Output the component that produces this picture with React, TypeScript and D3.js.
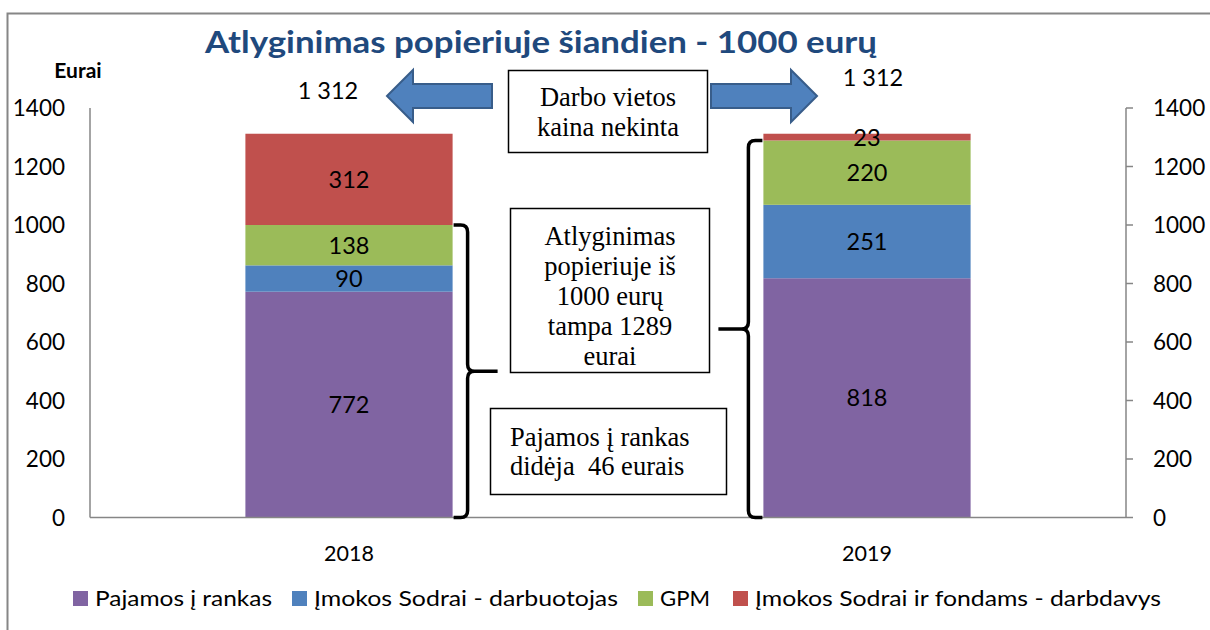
import React from 'react';
import * as d3 from 'd3';

// data
const years = ['2018', '2019'];
const seriesNames = [
    'Pajamos į rankas',
    'Įmokos Sodrai - darbuotojas',
    'GPM',
    'Įmokos Sodrai ir fondams - darbdavys',
];
const seriesColors = ['#8064A2', '#4F81BD', '#9BBB59', '#C0504D'];
const pajamos = [772, 818];
const sodraiDarbuotojas = [90, 251];
const gpm = [138, 220];
const sodraiDarbdavys = [312, 23];
const totalLabels = ['1 312', '1 312'];
const yTicks = [0, 200, 400, 600, 800, 1000, 1200, 1400];
const braceTops = [1000, 1289];

const W = 1210;
const H = 630;
const sans = 'Lato, "Open Sans", sans-serif';
const serif = '"Liberation Serif", "Times New Roman", serif';

type Row = { year: string; s0: number; s1: number; s2: number; s3: number };

const rows: Row[] = years.map((y, i) => ({
    year: y,
    s0: pajamos[i],
    s1: sodraiDarbuotojas[i],
    s2: gpm[i],
    s3: sodraiDarbdavys[i],
}));

const App: React.FC = () => {
    const x = d3.scaleBand<string>()
        .domain(years)
        .range([90, 1126])
        .paddingInner(0.6)
        .paddingOuter(0.3);

    const y = d3.scaleLinear()
        .domain([0, 1400])
        .range([517.5, 108]);

    const stack = d3.stack<Row>().keys(['s0', 's1', 's2', 's3']);
    const layers = stack(rows);

    // curly brace, dir = 1 tip points right, -1 tip points left
    const brace = (xEdge: number, yTop: number, yBot: number, dir: number) => {
        const xs = xEdge + dir * 14;
        const tip = xEdge + dir * 44;
        const mid = (yTop + yBot) / 2;
        const r = 7;
        return [
            `M${xEdge},${yTop}`,
            `L${xs - dir * r},${yTop}`,
            `Q${xs},${yTop} ${xs},${yTop + r}`,
            `L${xs},${mid - r}`,
            `Q${xs},${mid} ${xs + dir * r},${mid}`,
            `L${tip},${mid}`,
            `M${xs + dir * r},${mid}`,
            `Q${xs},${mid} ${xs},${mid + r}`,
            `L${xs},${yBot - r}`,
            `Q${xs},${yBot} ${xs - dir * r},${yBot}`,
            `L${xEdge},${yBot}`,
        ].join(' ');
    };

    const arrowLeft = 'M387,96 L413,70 L413,84 L492,84 L492,108 L413,108 L413,122 Z';
    const arrowRight = 'M817,96 L791,70 L791,84 L711,84 L711,108 L791,108 L791,122 Z';

    const x0 = x('2018') || 0;
    const x1 = x('2019') || 0;
    const bw = x.bandwidth();

    const legendX = [73, 292, 638, 733];
    const legendLen = [177, 304, 50, 406];

    return (
        <svg width={W} height={H} style={{ position: 'absolute', left: 0, top: 0, background: '#fff' }}>
            <rect x={7.5} y={13.5} width={1210} height={640} fill="#fff" stroke="#868686" strokeWidth={2} />

            {/* title */}
            <text x={541} y={53} textAnchor="middle" fontFamily={sans} fontWeight="bold" fontSize={31}
                fill="#1F497D" textLength={672} lengthAdjust="spacingAndGlyphs">
                Atlyginimas popieriuje šiandien - 1000 eurų
            </text>
            <text x={78} y={78} textAnchor="middle" fontFamily={sans} fontWeight="bold" fontSize={21} fill="#000">
                Eurai
            </text>

            {/* bars */}
            {layers.map((layer, li) => (
                <g key={li} fill={seriesColors[li]}>
                    {layer.map((d, i) => (
                        <rect key={i} x={x(d.data.year)} y={y(d[1])} width={bw} height={y(d[0]) - y(d[1])} />
                    ))}
                </g>
            ))}

            {/* axes */}
            <g stroke="#868686" strokeWidth={1.5} fill="none">
                <line x1={90} x2={90} y1={y(1400)} y2={y(0)} />
                <line x1={1126} x2={1126} y1={y(1400)} y2={y(0)} />
                <line x1={90} x2={1126} y1={y(0)} y2={y(0)} />
                {yTicks.map(t => (
                    <line key={t} x1={1126} x2={1133} y1={y(t)} y2={y(t)} />
                ))}
            </g>
            <g fontFamily={sans} fontSize={22.5} fill="#000">
                {yTicks.map(t => (
                    <text key={'l' + t} x={65} y={y(t)} dy="0.36em" textAnchor="end">{t}</text>
                ))}
                {yTicks.map(t => (
                    <text key={'r' + t} x={1153} y={y(t)} dy="0.36em" textAnchor="start">{t}</text>
                ))}
                {years.map(yr => (
                    <text key={yr} x={(x(yr) || 0) + bw / 2} y={553} dy="0.36em" textAnchor="middle" fontSize={21.5}>{yr}</text>
                ))}
            </g>

            {/* segment labels */}
            <g fontFamily={sans} fontSize={23.5} fill="#000" textAnchor="middle">
                {layers.map((layer, li) => layer.map((d, i) => (
                    <text key={li + '-' + i} x={(x(d.data.year) || 0) + bw / 2}
                        y={(y(d[0]) + y(d[1])) / 2} dy="0.36em">
                        {d[1] - d[0]}
                    </text>
                )))}
                <text x={x0 + bw / 2 - 21} y={y(1312) - 43} dy="0.36em">{totalLabels[0]}</text>
                <text x={x1 + bw / 2 + 6} y={y(1312) - 56} dy="0.36em">{totalLabels[1]}</text>
            </g>

            {/* braces */}
            <g stroke="#000" strokeWidth={3.5} fill="none" strokeLinejoin="round">
                <path d={brace(x0 + bw + 1, y(braceTops[0]), y(0), 1)} />
                <path d={brace(x1 - 1, y(braceTops[1]), y(0), -1)} />
            </g>

            {/* arrows */}
            <g fill="#4F81BD" stroke="#385D8A" strokeWidth={2}>
                <path d={arrowLeft} />
                <path d={arrowRight} />
            </g>

            {/* text boxes */}
            <g fontFamily={serif} fontSize={26.5} fill="#000">
                <rect x={508.5} y={70.5} width={199} height={82} fill="#fff" stroke="#000" strokeWidth={1.5} />
                <text x={608} y={106} textAnchor="middle">Darbo vietos</text>
                <text x={608} y={136} textAnchor="middle">kaina nekinta</text>

                <rect x={510.5} y={208.5} width={199} height={164} fill="#fff" stroke="#000" strokeWidth={1.5} />
                {['Atlyginimas', 'popieriuje iš', '1000 eurų', 'tampa 1289', 'eurai'].map((t, i) => (
                    <text key={t} x={610} y={245 + i * 30} textAnchor="middle">{t}</text>
                ))}

                <rect x={490.5} y={408.5} width={236} height={86} fill="#fff" stroke="#000" strokeWidth={1.5} />
                <text x={510} y={446}>Pajamos į rankas</text>
                <text x={510} y={475} style={{ whiteSpace: 'pre' }}>{'didėja  46 eurais'}</text>
            </g>

            {/* legend */}
            <g fontFamily={sans} fontSize={22} fill="#000">
                {seriesNames.map((n, i) => (
                    <g key={n}>
                        <rect x={legendX[i]} y={591} width={15} height={15} fill={seriesColors[i]} />
                        <text x={legendX[i] + 22} y={598} dy="0.36em" textLength={legendLen[i]}
                            lengthAdjust="spacingAndGlyphs">{n}</text>
                    </g>
                ))}
            </g>
        </svg>
    );
};

export default App;
